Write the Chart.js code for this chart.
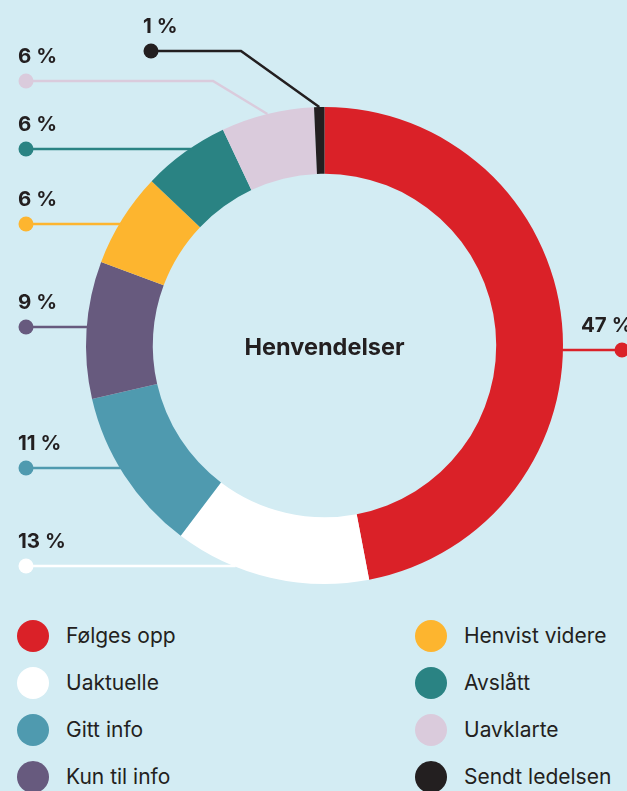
<!DOCTYPE html>
<html>
<head>
<meta charset="utf-8">
<script src="https://cdn.jsdelivr.net/npm/chart.js@4"></script>
<style>
  body { margin: 0; background: #D3ECF3; font-family: Inter, "Noto Sans", sans-serif; color: #231F20; }
  #wrap { position: relative; width: 627px; height: 791px; overflow: hidden; }
  #chart { position: absolute; left: 0; top: 0; }
  #legend { position: absolute; left: 17px; top: 612px; width: 610px; display: grid;
    grid-template-columns: 398px 200px; grid-auto-flow: column; grid-template-rows: repeat(4, 47px); }
  .item { display: flex; align-items: center; font-size: 21px; white-space: nowrap; }
  .dot { width: 32px; height: 32px; border-radius: 50%; margin-right: 17px; flex: none; }
</style>
</head>
<body>
<div id="wrap">
  <canvas id="chart" width="627" height="600"></canvas>
  <div id="legend"></div>
</div>
<script>
'use strict';

const categories = ['Følges opp', 'Uaktuelle', 'Gitt info', 'Kun til info',
    'Henvist videre', 'Avslått', 'Uavklarte', 'Sendt ledelsen'];
const shares = [47, 13.3, 11.1, 9.3, 6.4, 5.9, 6.3, 0.7];
const shareLabels = ['47 %', '13 %', '11 %', '9 %', '6 %', '6 %', '6 %', '1 %'];
const colors = ['#DA2128', '#FFFFFF', '#4F9AAF', '#675A7E',
    '#FDB52F', '#2A8383', '#DACBDC', '#231F20'];
const centerTitle = 'Henvendelser';

// where each callout dot sits; elbowX means the line bends towards the slice middle
const callouts = [
    { x: 622, y: 350, textX: 581 },
    { x: 26, y: 566, textX: 18 },
    { x: 26, y: 468, textX: 18 },
    { x: 26, y: 327, textX: 18 },
    { x: 26, y: 224, textX: 18 },
    { x: 26, y: 149, textX: 18 },
    { x: 26, y: 81, textX: 18, elbowX: 213 },
    { x: 151, y: 51, textX: 143, elbowX: 241 }
];

const calloutPlugin = {
    id: 'callouts',
    afterDatasetsDraw(chart) {
        const ctx = chart.ctx;
        const arcs = chart.getDatasetMeta(0).data;
        ctx.save();
        arcs.forEach((arc, i) => {
            const c = callouts[i];
            const cx = arc.x, cy = arc.y, r = arc.outerRadius;
            ctx.strokeStyle = colors[i];
            ctx.fillStyle = colors[i];
            ctx.lineWidth = 2.5;
            ctx.beginPath();
            ctx.moveTo(c.x, c.y);
            if (c.elbowX !== undefined) {
                const mid = (arc.startAngle + arc.endAngle) / 2;
                ctx.lineTo(c.elbowX, c.y);
                ctx.lineTo(cx + r * Math.cos(mid), cy + r * Math.sin(mid));
            } else {
                const dx = Math.sqrt(Math.max(r * r - (c.y - cy) * (c.y - cy), 0));
                ctx.lineTo(c.x < cx ? cx - dx + 2 : cx + dx - 2, c.y);
            }
            ctx.stroke();
            ctx.beginPath();
            ctx.arc(c.x, c.y, 7.5, 0, Math.PI * 2);
            ctx.fill();

            ctx.fillStyle = '#231F20';
            ctx.font = 'bold 20.5px Inter';
            ctx.textBaseline = 'alphabetic';
            ctx.textAlign = 'left';
            ctx.fillText(shareLabels[i], c.textX, c.y - 18);
        });
        const a = arcs[0];
        ctx.font = 'bold 23.5px Inter';
        ctx.textAlign = 'center';
        ctx.textBaseline = 'middle';
        ctx.fillText(centerTitle, a.x, a.y + 2);
        ctx.restore();
    }
};

new Chart(document.getElementById('chart'), {
    type: 'doughnut',
    data: {
        labels: categories,
        datasets: [{
            data: shares,
            backgroundColor: colors,
            borderWidth: 0,
            hoverOffset: 0
        }]
    },
    options: {
        responsive: false,
        animation: false,
        cutout: '72%',
        layout: { padding: { left: 86, right: 64, top: 107, bottom: 16 } },
        plugins: {
            legend: { display: false },
            tooltip: { enabled: false }
        }
    },
    plugins: [calloutPlugin]
});

const legend = document.getElementById('legend');
categories.forEach((name, i) => {
    const item = document.createElement('div');
    item.className = 'item';
    item.innerHTML = '<span class="dot" style="background:' + colors[i] + '"></span>' + name;
    legend.appendChild(item);
});
</script>
</body>
</html>
